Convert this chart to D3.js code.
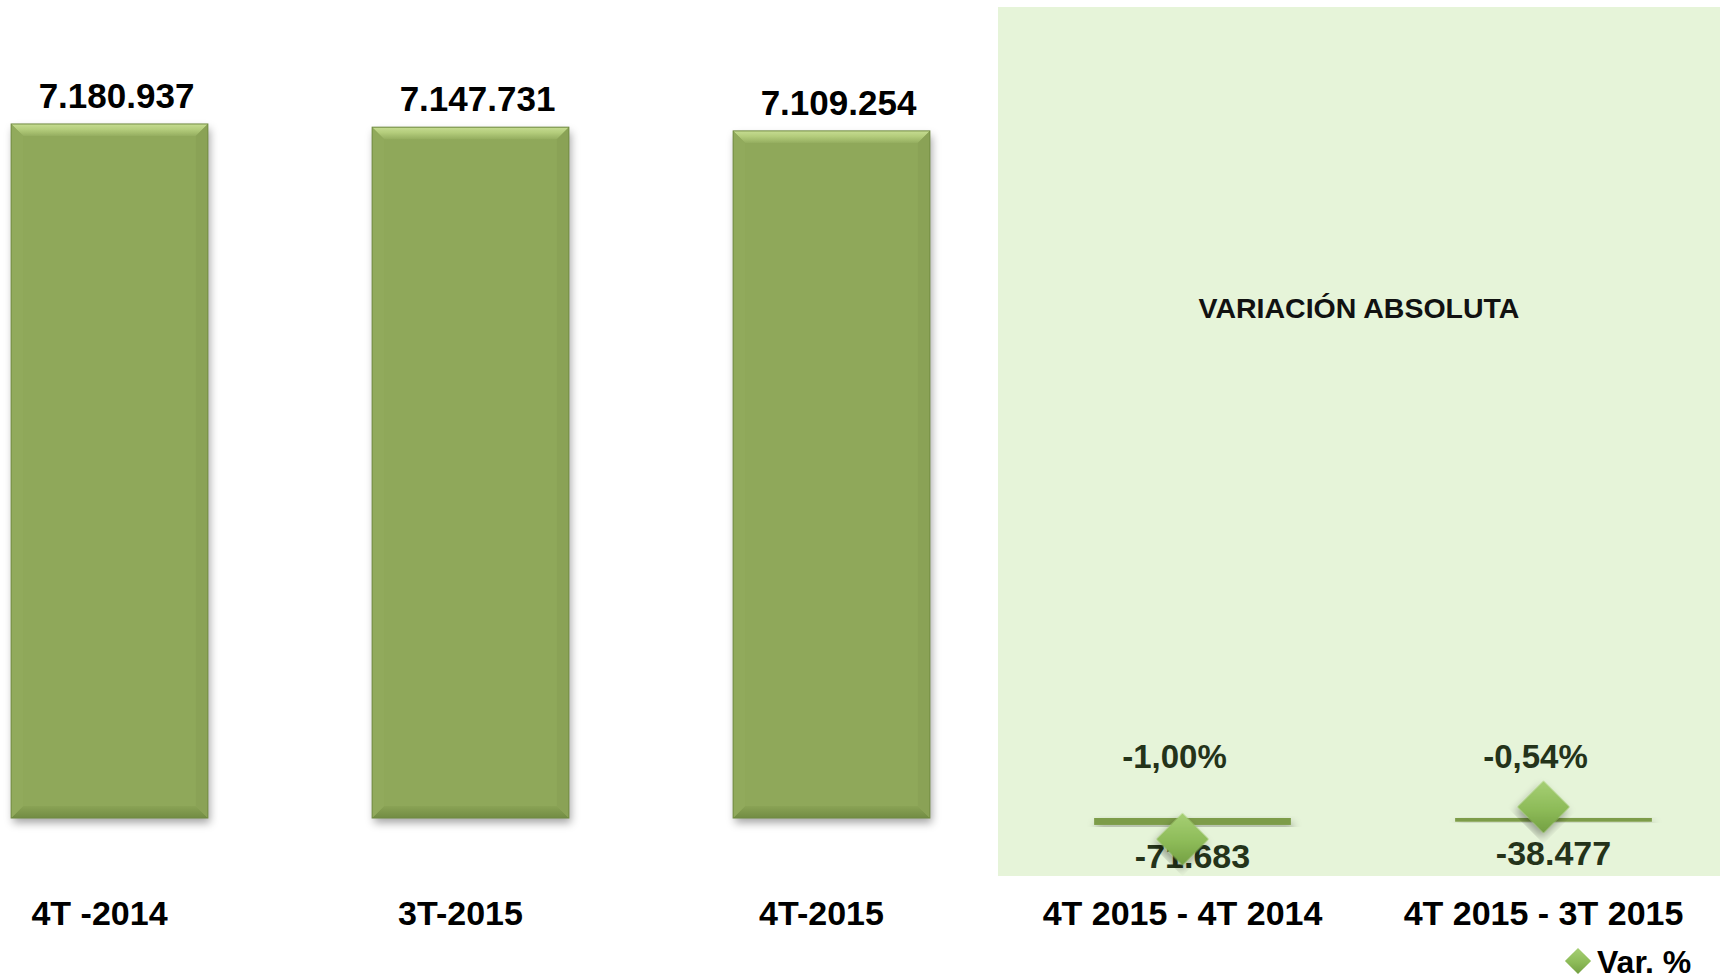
<!DOCTYPE html>
<html>
<head>
<meta charset="utf-8">
<script src="https://cdn.jsdelivr.net/npm/d3@7"></script>
<style>
  html, body { margin: 0; padding: 0; background: #ffffff; }
  svg { display: block; }
  text { font-family: "Liberation Sans", Arial, sans-serif; font-weight: bold; }
</style>
</head>
<body>
<svg id="chart" width="1723" height="979"></svg>
<script>
// ---- data ----
const categories = ["4T -2014", "3T-2015", "4T-2015", "4T 2015 - 4T 2014", "4T 2015 - 3T 2015"];
const totalCats = ["4T -2014", "3T-2015", "4T-2015"];
const totalValues = [7180937, 7147731, 7109254];
const varCats = ["4T 2015 - 4T 2014", "4T 2015 - 3T 2015"];
const varAbsValues = [-71683, -38477];
const varPctValues = [-1.00, -0.54];
const regionTitle = "VARIACIÓN ABSOLUTA";
const legendLabel = "Var. %";

// ---- setup ----
const W = 1723, H = 979;
const svg = d3.select("#chart");
const loc = d3.formatLocale({decimal: ",", thousands: ".", grouping: [3], currency: ["", "€"], minus: "-"});
const fmtInt = loc.format(",d");
const fmtPct = v => loc.format(".2f")(v) + "%";

const x = d3.scaleBand().domain(categories).range([-81, 1724]).paddingInner(0.455).paddingOuter(0.2275);
const bw = x.bandwidth();
const barShift = 10;
const y = d3.scaleLinear().domain([0, 8000000]).range([818, 44.8]);
const y2 = d3.scaleLinear().domain([-1.5, 10]).range([874.3, 67]);

const defs = svg.append("defs");
const f = defs.append("filter").attr("id", "shadow").attr("x", "-20%").attr("y", "-20%").attr("width", "140%").attr("height", "140%");
f.append("feDropShadow").attr("dx", 2).attr("dy", 5).attr("stdDeviation", 4).attr("flood-color", "#000").attr("flood-opacity", 0.35);

const gTop = defs.append("linearGradient").attr("id", "gTop").attr("x1", 0).attr("y1", 0).attr("x2", 0).attr("y2", 1);
gTop.append("stop").attr("offset", "0%").attr("stop-color", "#c6dc92");
gTop.append("stop").attr("offset", "45%").attr("stop-color", "#b4cd7c");
gTop.append("stop").attr("offset", "100%").attr("stop-color", "#95ae60");
const gBot = defs.append("linearGradient").attr("id", "gBot").attr("x1", 0).attr("y1", 0).attr("x2", 0).attr("y2", 1);
gBot.append("stop").attr("offset", "0%").attr("stop-color", "#8aa355");
gBot.append("stop").attr("offset", "100%").attr("stop-color", "#728c43");
const gDia = defs.append("linearGradient").attr("id", "gDia").attr("x1", 0).attr("y1", 0).attr("x2", 1).attr("y2", 1);
gDia.append("stop").attr("offset", "0%").attr("stop-color", "#a6cf74");
gDia.append("stop").attr("offset", "55%").attr("stop-color", "#8dbb58");
gDia.append("stop").attr("offset", "100%").attr("stop-color", "#739f42");

// ---- shaded region for variations ----
const step = x.step();
const regionX0 = x(varCats[0]) - step * x.paddingInner() / 2 - 4;
const regionX1 = W - 3;
svg.append("rect")
  .attr("x", regionX0).attr("y", 7)
  .attr("width", regionX1 - regionX0).attr("height", 876 - 7)
  .attr("fill", "#e6f4d9");

svg.append("text")
  .attr("x", (regionX0 + regionX1) / 2).attr("y", 318)
  .attr("text-anchor", "middle").attr("font-size", 28.5).attr("fill", "#111")
  .text(regionTitle);

// ---- main bars with bevel ----
const totals = totalCats.map((c, i) => ({c, v: totalValues[i]}));
const b = 12;
const barG = svg.append("g").selectAll("g").data(totals).join("g");
barG.each(function(d) {
  const g = d3.select(this);
  const x0 = x(d.c) + barShift, x1 = x0 + bw;
  const y0 = y(d.v), y1 = y(0);
  g.append("rect").attr("x", x0).attr("y", y0).attr("width", bw).attr("height", y1 - y0)
    .attr("fill", "#8fa85a").attr("filter", "url(#shadow)");
  g.append("path").attr("d", `M${x0},${y0}L${x1},${y0}L${x1 - b},${y0 + b}L${x0 + b},${y0 + b}Z`).attr("fill", "url(#gTop)");
  g.append("path").attr("d", `M${x0},${y1}L${x1},${y1}L${x1 - b},${y1 - b}L${x0 + b},${y1 - b}Z`).attr("fill", "url(#gBot)");
  g.append("path").attr("d", `M${x0},${y0}L${x0 + b},${y0 + b}L${x0 + b},${y1 - b}L${x0},${y1}Z`).attr("fill", "#91aa5c");
  g.append("path").attr("d", `M${x1},${y0}L${x1 - b},${y0 + b}L${x1 - b},${y1 - b}L${x1},${y1}Z`).attr("fill", "#8aa256");
  g.append("rect").attr("x", x0).attr("y", y0).attr("width", bw).attr("height", y1 - y0)
    .attr("fill", "none").attr("stroke", "#718b42").attr("stroke-width", 1);
});

svg.append("g").selectAll("text").data(totals).join("text")
  .attr("x", d => x(d.c) + barShift + bw / 2 + 7)
  .attr("y", d => y(d.v) - 16)
  .attr("text-anchor", "middle").attr("font-size", 35).attr("fill", "#000")
  .text(d => fmtInt(d.v));

// ---- variation absolute bars ----
const vars = varCats.map((c, i) => ({c, v: varAbsValues[i], p: varPctValues[i]}));
svg.append("g").selectAll("rect").data(vars).join("rect")
  .attr("x", d => x(d.c) + barShift)
  .attr("y", y(0))
  .attr("width", bw)
  .attr("height", d => y(d.v) - y(0))
  .attr("fill", "#7d9c48").attr("filter", "url(#shadow)");

svg.append("g").selectAll("text").data(vars).join("text")
  .attr("x", d => x(d.c) + barShift + bw / 2)
  .attr("y", d => y(d.v) + 43)
  .attr("text-anchor", "middle").attr("font-size", 34).attr("fill", "#24331a")
  .text(d => fmtInt(d.v));

// ---- Var. % diamonds (secondary axis) ----
const dia = d3.symbol(d3.symbolSquare).size(37 * 37);
svg.append("g").selectAll("path").data(vars).join("path")
  .attr("d", dia)
  .attr("transform", d => `translate(${x(d.c) + bw / 2},${y2(d.p)}) rotate(45)`)
  .attr("fill", "url(#gDia)").attr("filter", "url(#shadow)");

svg.append("g").selectAll("text").data(vars).join("text")
  .attr("x", d => x(d.c) + bw / 2 - 8)
  .attr("y", y(0) - 50)
  .attr("text-anchor", "middle").attr("font-size", 33).attr("fill", "#24331a")
  .text(d => fmtPct(d.p));

// ---- category labels ----
svg.append("g").selectAll("text").data(categories).join("text")
  .attr("x", d => x(d) + bw / 2)
  .attr("y", 925)
  .attr("text-anchor", "middle").attr("font-size", 34).attr("fill", "#000")
  .text(d => d);

// ---- legend ----
const lg = svg.append("g").attr("transform", "translate(1578,961)");
lg.append("path").attr("d", d3.symbol(d3.symbolSquare).size(18.5 * 18.5)).attr("transform", "rotate(45)")
  .attr("fill", "url(#gDia)");
lg.append("text").attr("x", 19).attr("y", 12).attr("font-size", 32).attr("fill", "#000").text(legendLabel);
</script>
</body>
</html>
